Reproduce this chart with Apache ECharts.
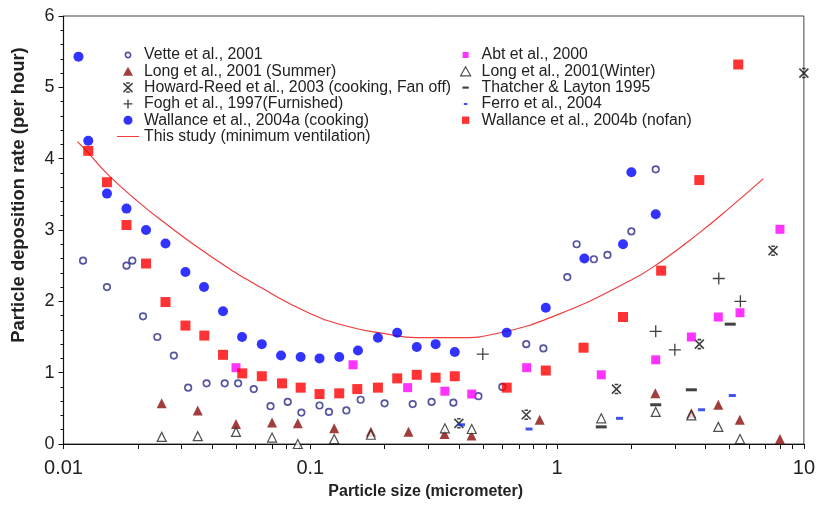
<!DOCTYPE html>
<html>
<head>
<meta charset="utf-8">
<title>Particle deposition rate vs particle size</title>
<script src="https://cdn.jsdelivr.net/npm/echarts@6/dist/echarts.min.js"></script>
<style>
  html, body { margin: 0; padding: 0; background: #fff; }
  #chart { width: 818px; height: 509px; }
</style>
</head>
<body>
<div id="chart"></div>
<script>
// [particle size (micrometer), deposition rate (per hour)]
var vette = [[0.012,2.57],[0.015,2.20],[0.018,2.50],[0.019,2.57],[0.021,1.79],[0.024,1.50],[0.028,1.24],
  [0.032,0.79],[0.038,0.85],[0.045,0.85],[0.051,0.85],[0.059,0.77],[0.069,0.53],[0.081,0.59],[0.092,0.44],
  [0.109,0.54],[0.119,0.45],[0.14,0.47],[0.16,0.62],[0.2,0.57],[0.26,0.56],[0.31,0.59],[0.38,0.58],
  [0.48,0.67],[0.6,0.80],[0.75,1.40],[0.88,1.34],[1.1,2.34],[1.2,2.80],[1.41,2.59],[1.6,2.65],[2.0,2.98],[2.51,3.85]];
var longSummer = [[0.025,0.57],[0.035,0.47],[0.05,0.28],[0.07,0.30],[0.089,0.29],[0.125,0.22],[0.176,0.17],
  [0.25,0.17],[0.35,0.14],[0.45,0.12],[0.85,0.34],[2.5,0.71],[3.5,0.43],[4.5,0.55],[5.5,0.34],[8.0,0.07]];
var howardReed = [[0.40,0.29],[0.75,0.41],[1.74,0.77],[3.77,1.40],[7.5,2.71],[10,5.20]];
var fogh = [[0.5,1.26],[2.51,1.58],[3.0,1.32],[4.52,2.32],[5.53,2.0]];
var wallaceA = [[0.0115,5.43],[0.0126,4.25],[0.015,3.51],[0.018,3.30],[0.0216,3.00],[0.0259,2.81],[0.0312,2.41],
  [0.0371,2.20],[0.0443,1.86],[0.0529,1.50],[0.0636,1.40],[0.0761,1.24],[0.0914,1.22],[0.109,1.20],[0.131,1.22],
  [0.156,1.31],[0.188,1.49],[0.225,1.56],[0.27,1.36],[0.322,1.40],[0.385,1.29],[0.625,1.56],[0.9,1.91],
  [1.29,2.60],[1.85,2.80],[2.0,3.81],[2.51,3.22]];
var thisStudy = [[0.0114,4.24],[0.0126,4.08],[0.015,3.79],[0.0197,3.42],[0.0246,3.15],[0.0392,2.64],[0.0626,2.20],
  [0.0997,1.83],[0.145,1.64],[0.198,1.55],[0.27,1.49],[0.392,1.49],[0.587,1.56],[1.0,1.81],[2.0,2.30],
  [2.64,2.56],[3.8,2.97],[5.0,3.31],[6.85,3.72]];
var abt = [[0.05,1.07],[0.149,1.11],[0.248,0.79],[0.351,0.74],[0.451,0.70],[0.753,1.07],[1.51,0.97],[2.51,1.18],
  [3.5,1.50],[4.5,1.78],[5.51,1.84],[8.0,3.01]];
var longWinter = [[0.025,0.10],[0.035,0.11],[0.05,0.17],[0.07,0.09],[0.089,0.0],[0.125,0.07],[0.176,0.13],
  [0.351,0.22],[0.451,0.21],[1.51,0.36],[2.51,0.45],[3.5,0.40],[4.5,0.24],[5.51,0.07]];
var thatcher = [[1.51,0.24],[2.51,0.55],[3.5,0.76],[5.03,1.68]];
var ferro = [[0.41,0.27],[0.77,0.21],[1.79,0.36],[3.85,0.48],[5.13,0.68]];
var wallaceB = [[0.0126,4.11],[0.015,3.67],[0.018,3.07],[0.0216,2.53],[0.0259,1.99],[0.0312,1.66],[0.0372,1.52],
  [0.0443,1.25],[0.053,0.99],[0.0636,0.95],[0.0768,0.85],[0.0914,0.79],[0.109,0.70],[0.131,0.71],[0.155,0.77],
  [0.188,0.79],[0.225,0.92],[0.27,0.97],[0.322,0.93],[0.385,0.95],[0.625,0.79],[0.9,1.03],[1.28,1.35],
  [1.85,1.78],[2.64,2.43],[3.77,3.70],[5.42,5.32]];

var xTickValues = [0.01,0.02,0.03,0.04,0.05,0.06,0.07,0.08,0.09,
  0.1,0.2,0.3,0.4,0.5,0.6,0.7,0.8,0.9,
  1,2,3,4,5,6,7,8,9,10];
var xLabelValues = [0.01, 0.1, 1, 10];

var FONT = '"Liberation Sans", Arial, sans-serif';
var leftNames = ['Vette et al., 2001', 'Long et al., 2001 (Summer)', 'Howard-Reed et al., 2003 (cooking, Fan off)',
  'Fogh et al., 1997(Furnished)', 'Wallance et al., 2004a (cooking)', 'This study (minimum ventilation)'];
var rightNames = ['Abt et al., 2000', 'Long et al., 2001(Winter)', 'Thatcher & Layton 1995',
  'Ferro et al., 2004', 'Wallance et al., 2004b (nofan)'];

// symbol paths; the legend versions carry corner points so the icon keeps its small size
var XSYM = 'path://M0,0L10,10M10,0L0,10M3,0L7,0M3,10L7,10';
var PLUS = 'path://M5,0L5,10M0,5L10,5';
var TRI_ICON = 'path://M5,0L10,9L0,9Z';
var SQ_ICON = 'path://M0,0M11,11M1,1H10V10H1Z';
var SMALL_SQ_ICON = 'path://M0,0M12,12M2,2H10V10H2Z';
var CIRC_ICON = 'path://M0,0M12,12M6,2.5A3.5,3.5,0,1,1,5.99,2.5Z';

function dots(name, data, symbol, size, style) {
  return { name: name, type: 'scatter', data: data, symbol: symbol, symbolSize: size,
    itemStyle: style, clip: false, z: 3 };
}

var legendText = { fontSize: 15.8, color: '#222', lineHeight: 16, fontFamily: FONT };

var chart = echarts.init(document.getElementById('chart'));

chart.setOption({
  animation: false,
  backgroundColor: '#fff',
  textStyle: { fontFamily: FONT },
  grid: { left: 63.5, right: 14, top: 16, bottom: 65, show: true, borderColor: '#444', borderWidth: 1 },
  legend: [{
    orient: 'vertical', left: 117, top: 47, padding: 0, itemWidth: 22, itemHeight: 9, itemGap: 0.3,
    textStyle: legendText,
    data: [
      { name: leftNames[0], icon: CIRC_ICON, itemStyle: { borderWidth: 1.6 } },
      { name: leftNames[1], icon: TRI_ICON },
      { name: leftNames[2], itemStyle: { borderWidth: 1.5 } },
      { name: leftNames[3], itemStyle: { borderWidth: 1.4 } },
      { name: leftNames[4], icon: 'circle' },
      { name: leftNames[5], icon: 'path://M0,0H27V1.2H0Z' }
    ]
  }, {
    orient: 'vertical', left: 460, top: 47, padding: 0, itemWidth: 22, itemHeight: 9, itemGap: 0.3,
    textStyle: legendText,
    data: [
      { name: rightNames[0], icon: SMALL_SQ_ICON },
      { name: rightNames[1], icon: TRI_ICON, itemStyle: { borderWidth: 1.2 } },
      { name: rightNames[2], icon: 'path://M0,0L0,0M10,10L10,10M1.5,3.8H8.5V6.2H1.5Z' },
      { name: rightNames[3], icon: 'path://M0,0L0,0M10,10L10,10M3,4H7V6.2H3Z' },
      { name: rightNames[4], icon: SQ_ICON }
    ]
  }],
  xAxis: {
    type: 'log', logBase: 10, min: 0.01, max: 10,
    axisLine: { lineStyle: { color: '#111', width: 1.2 } },
    axisTick: { customValues: xTickValues, length: 5, lineStyle: { color: '#111' } },
    axisLabel: {
      customValues: xLabelValues, fontSize: 20, margin: 14, color: '#222',
      formatter: function (v) { return String(parseFloat(Number(v).toPrecision(3))); }
    },
    splitLine: { show: false },
    name: 'Particle size (micrometer)', nameLocation: 'middle', nameGap: 40,
    nameTextStyle: { fontWeight: 'bold', fontSize: 16, color: '#222', padding: [0, 16, 0, 0] }
  },
  yAxis: {
    type: 'value', min: 0, max: 6, interval: 1,
    axisLine: { show: true, lineStyle: { color: '#111', width: 1.2 } },
    axisTick: { show: true, length: 5, lineStyle: { color: '#111' } },
    minorTick: { show: true, splitNumber: 5, length: 3, lineStyle: { color: '#111' } },
    axisLabel: { fontSize: 18, margin: 9, color: '#222' },
    splitLine: { show: false }
  },
  graphic: [{
    type: 'text', x: 19, y: 195, rotation: Math.PI / 2,
    style: { text: 'Particle deposition rate (per hour)', font: 'bold 18.4px "Liberation Sans", Arial, sans-serif',
      fill: '#222', align: 'center', verticalAlign: 'middle' }
  }],
  series: [
    dots(leftNames[0], vette, 'circle', 6.5, { color: '#fff', borderColor: '#2b2b88', borderWidth: 1.7 }),
    dots(leftNames[1], longSummer, 'triangle', 10, { color: '#8b0d0d' }),
    dots(leftNames[2], howardReed, XSYM, 9, { color: 'rgba(0,0,0,0)', borderColor: '#111', borderWidth: 1.6 }),
    dots(leftNames[3], fogh, PLUS, 12, { color: 'rgba(0,0,0,0)', borderColor: '#111', borderWidth: 1.3 }),
    dots(leftNames[4], wallaceA, 'circle', 10, { color: '#0000ff' }),
    {
      name: leftNames[5], type: 'line', data: thisStudy, smooth: true, symbol: 'none',
      lineStyle: { color: '#f03c3c', width: 1.2 }, itemStyle: { color: '#f03c3c' }, z: 2
    },
    dots(rightNames[0], abt, 'rect', 9, { color: '#ff00ff' }),
    dots(rightNames[1], longWinter, 'triangle', 9, { color: '#fff', borderColor: '#222', borderWidth: 1.2 }),
    dots(rightNames[2], thatcher, 'rect', [11, 3], { color: '#111' }),
    dots(rightNames[3], ferro, 'rect', [7, 3], { color: '#1428e6' }),
    dots(rightNames[4], wallaceB, 'rect', 10, { color: '#ff0000' })
  ]
});
</script>
</body>
</html>
